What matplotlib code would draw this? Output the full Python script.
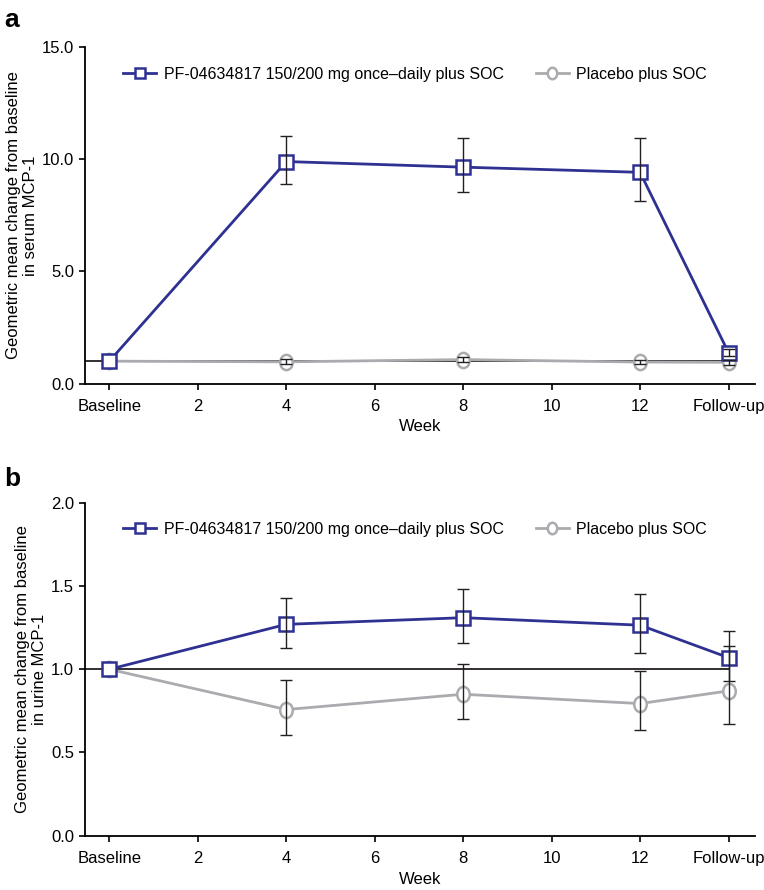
import matplotlib.pyplot as plt
from matplotlib.markers import MarkerStyle
from matplotlib.transforms import Affine2D

plt.rcParams['font.family'] = ['Liberation Sans', 'DejaVu Sans']

# x positions in weeks; follow-up drawn at week 14
weeks = [0, 4, 8, 12, 14]
tick_pos = [0, 2, 4, 6, 8, 10, 12, 14]
tick_labels = ['Baseline', '2', '4', '6', '8', '10', '12', 'Follow-up']

drug_name = 'PF-04634817 150/200 mg once\u2013daily plus SOC'
placebo_name = 'Placebo plus SOC'

# Panel a: serum MCP-1
serum_drug = [1.0, 9.9, 9.65, 9.42, 1.38]
serum_drug_lo = [1.0, 8.9, 8.55, 8.15, 1.22]
serum_drug_hi = [1.0, 11.05, 10.95, 10.95, 1.55]
serum_plac = [1.0, 0.97, 1.07, 0.96, 0.95]
serum_plac_lo = [1.0, 0.86, 0.96, 0.88, 0.84]
serum_plac_hi = [1.0, 1.09, 1.19, 1.05, 1.07]

# Panel b: urine MCP-1
urine_drug = [1.0, 1.27, 1.31, 1.265, 1.07]
urine_drug_lo = [1.0, 1.13, 1.16, 1.10, 0.93]
urine_drug_hi = [1.0, 1.43, 1.48, 1.45, 1.228]
urine_plac = [1.0, 0.758, 0.85, 0.794, 0.87]
urine_plac_lo = [1.0, 0.608, 0.702, 0.638, 0.67]
urine_plac_hi = [1.0, 0.934, 1.034, 0.99, 1.137]

navy = '#2e3192'
grey = '#a9abae'
XMIN, XMAX = -0.55, 14.6

# slightly narrow open circle, as in the original figure
oval = MarkerStyle('o', transform=Affine2D().scale(0.82, 1.0))


def draw_panel(ax, drug, dlo, dhi, plac, plo, phi, ymax, yticks, ylabel):
    ax.axhline(1.0, xmin=0, xmax=(14 - XMIN) / (XMAX - XMIN), color='#231f20', lw=1.3, zorder=1)
    ax.plot(weeks, plac, color=grey, lw=2, marker=oval, ms=11, mfc='white',
            mec=grey, mew=1.8, zorder=3, label=placebo_name)
    ax.plot(weeks, drug, color=navy, lw=2, marker='s', ms=10, mfc='white',
            mec=navy, mew=1.8, zorder=4, label=drug_name)
    for vals, lo, hi in [(plac, plo, phi), (drug, dlo, dhi)]:
        err_lo = [v - l for v, l in zip(vals, lo)]
        err_hi = [h - v for v, h in zip(vals, hi)]
        ax.errorbar(weeks[1:], vals[1:], yerr=[err_lo[1:], err_hi[1:]], fmt='none',
                    ecolor='#231f20', elinewidth=1, capsize=4, capthick=1, zorder=5)
    ax.set_xlim(XMIN, XMAX)
    ax.set_ylim(0, ymax)
    ax.set_xticks(tick_pos)
    ax.set_xticklabels(tick_labels)
    ax.set_yticks(yticks)
    ax.set_yticklabels(['%.1f' % t for t in yticks])
    ax.spines['top'].set_visible(False)
    ax.spines['right'].set_visible(False)
    ax.spines['left'].set_linewidth(1.3)
    ax.spines['bottom'].set_linewidth(1.3)
    ax.tick_params(axis='both', labelsize=12, length=4.5, width=1.2, direction='out')
    ax.tick_params(axis='x', pad=6.5)
    ax.set_xlabel('Week', fontsize=12, labelpad=4)
    ax.set_ylabel(ylabel, fontsize=12, labelpad=3, linespacing=1.15)
    handles, labels = ax.get_legend_handles_labels()
    ax.legend(handles[::-1], labels[::-1], loc='center left', bbox_to_anchor=(0.035, 0.92),
              ncol=2, frameon=False, fontsize=11.5, columnspacing=2.0,
              handlelength=2.1, handletextpad=0.45, markerscale=0.75)


fig = plt.figure(figsize=(7.64, 8.90), dpi=100)
ax_a = fig.add_axes([0.1113, 0.569, 0.877, 0.378])
ax_b = fig.add_axes([0.1113, 0.061, 0.877, 0.374])

draw_panel(ax_a, serum_drug, serum_drug_lo, serum_drug_hi,
           serum_plac, serum_plac_lo, serum_plac_hi,
           15, [0, 5, 10, 15], 'Geometric mean change from baseline\nin serum MCP-1')
draw_panel(ax_b, urine_drug, urine_drug_lo, urine_drug_hi,
           urine_plac, urine_plac_lo, urine_plac_hi,
           2, [0, 0.5, 1.0, 1.5, 2.0], 'Geometric mean change from baseline\nin urine MCP-1')

fig.text(0.005, 0.977, 'a', fontsize=19, fontweight='bold', va='center')
fig.text(0.005, 0.462, 'b', fontsize=19, fontweight='bold', va='center')

fig.savefig('out.png', dpi=100)
